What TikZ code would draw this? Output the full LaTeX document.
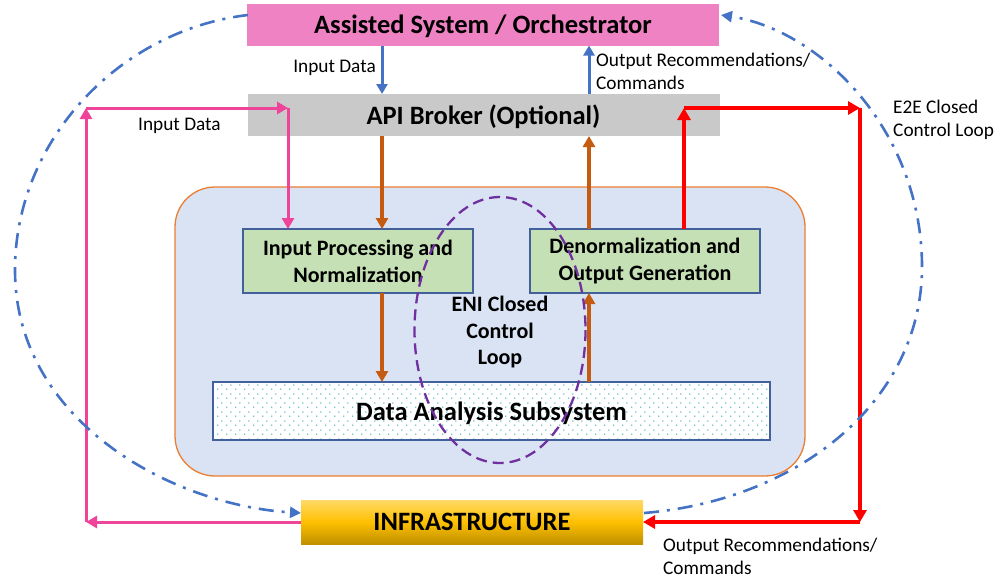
\documentclass[tikz,border=0pt]{standalone}
\usepackage{fontspec}
\setmainfont{Carlito}
\usetikzlibrary{arrows.meta,patterns,shapes.geometric}
\definecolor{pinkbox}{HTML}{EF82C3}
\definecolor{graybox}{HTML}{C9C9C9}
\definecolor{greenbox}{HTML}{C5E0B4}
\definecolor{boxborder}{HTML}{41609C}
\definecolor{bluefill}{HTML}{DAE3F3}
\definecolor{orangeborder}{HTML}{ED7D31}
\definecolor{orangearrow}{HTML}{C55A11}
\definecolor{bluearrow}{HTML}{4472C4}
\definecolor{pinkline}{HTML}{EE4499}
\definecolor{redline}{HTML}{FF0000}
\definecolor{purpleloop}{HTML}{7030A0}
\definecolor{dotteal}{HTML}{46B0C2}
\definecolor{goldtop}{HTML}{FFD966}
\definecolor{goldmid}{HTML}{FFC000}
\definecolor{goldbot}{HTML}{BF9000}
\pgfdeclarepatternformonly{stagdots}{\pgfpointorigin}{\pgfpoint{9pt}{9pt}}{\pgfpoint{9pt}{9pt}}{%
  \pgfpathcircle{\pgfpoint{2pt}{2pt}}{0.8pt}%
  \pgfpathcircle{\pgfpoint{6.5pt}{6.5pt}}{0.8pt}%
  \pgfusepath{fill}}
\tikzset{
  box/.style={rectangle, inner sep=0pt, outer sep=0pt, align=center, font=\fontsize{26.5}{30}\selectfont\bfseries},
  onebox/.style={box, text depth=0pt},
  greenbx/.style={box, fill=greenbox, draw=boxborder, line width=1.3pt, font=\fontsize{22}{27}\selectfont\bfseries},
  lbl/.style={font=\fontsize{19.3}{23.5}\selectfont, inner sep=0pt, align=left},
  bluearr/.style={draw=bluearrow, line width=3pt, -{Triangle[length=10pt,width=11pt]}},
  orarr/.style={draw=orangearrow, line width=3.5pt, -{Triangle[length=11pt,width=12pt]}},
  pinkarr/.style={draw=pinkline, line width=3pt, -{Triangle[length=11pt,width=12pt]}},
  redarr/.style={draw=redline, line width=3.6pt, -{Triangle[length=12pt,width=13pt]}},
  loopline/.style={draw=bluearrow, line width=2.6pt, dash pattern=on 15pt off 8pt on 3pt off 8pt, -{Triangle[length=11pt,width=11pt]}},
}
\begin{document}
\begin{tikzpicture}[x=1pt,y=-1pt]
\useasboundingbox (0,0) rectangle (1000,579);
% column coordinates
\coordinate (cA) at (382,0);
\coordinate (cB) at (589,0);
% boxes
\node[onebox, fill=pinkbox, minimum width=472pt, minimum height=42pt] (as) at (483,24.5) {Assisted System / Orchestrator};
\node[onebox, fill=graybox, minimum width=472pt, minimum height=42pt] (api) at (483.5,115) {API Broker (Optional)};
\node[rectangle, fill=bluefill, draw=orangeborder, line width=1.3pt, rounded corners=40pt, minimum width=630pt, minimum height=289pt, inner sep=0pt, outer sep=0pt] (eni) at (490,331.5) {};
\node[greenbx, minimum width=230pt, minimum height=64pt] (inproc) at (358,261) {Input Processing and\\Normalization};
\node[greenbx, minimum width=230pt, minimum height=64pt] (denorm) at (645,261) {Denormalization and\\Output Generation};
\node[box, draw=boxborder, line width=1.3pt, preaction={fill=white}, pattern=stagdots, pattern color=dotteal, minimum width=557pt, minimum height=58pt] (das) at (491.5,411) {};
\node[onebox] (dastext) at (das.center) {Data Analysis Subsystem};
\node[onebox, top color=goldtop, bottom color=goldbot, middle color=goldmid, minimum width=342pt, minimum height=44pt] (infra) at (472,522) {INFRASTRUCTURE};
% ENI loop
\node[lbl, align=center, font=\fontsize{22}{26.5}\selectfont\bfseries] (enitext) at (500,332.5) {ENI Closed\\Control\\Loop};
% blue arrows
\draw[bluearr] (as.south -| cA) -- (api.north -| cA);
\draw[bluearr] (api.north -| cB) -- (as.south -| cB);
\node[lbl, anchor=east] (lin1) at (376,68) {Input Data};
\node[lbl, anchor=west] (lout1) at (596,71.5) {Output Recommendations/\\Commands};
% orange arrows
\draw[orarr] (api.south -| cA) -- (inproc.north -| cA);
\draw[orarr] (inproc.south -| cA) -- (das.north -| cA);
\draw[orarr] (das.north -| cB) -- (denorm.south -| cB);
\draw[orarr] (denorm.north -| cB) -- (api.south -| cB);
% pink path
\coordinate (pk1) at (86,522);
\coordinate (pk2) at (86,108);
\coordinate (pk3) at (288,108);
\draw[pinkarr] (infra.west) -- (pk1);
\draw[pinkarr] (pk1) -- (pk2);
\draw[pinkarr] (pk2) -- (pk3);
\draw[pinkarr] (pk3) -- (pk3 |- inproc.north);
\node[lbl, anchor=west] (lin2) at (138,126) {Input Data};
% red path
\coordinate (r1) at (684,108);
\coordinate (r2) at (860,108);
\coordinate (r3) at (860,522);
\draw[redarr] (r1 |- denorm.north) -- (r1);
\draw[redarr] (r1) -- (r2);
\draw[redarr] (r2) -- (r3);
\draw[redarr] (r3) -- (infra.east);
\node[lbl, anchor=west] (le2e) at (893,120) {E2E Closed\\Control Loop};
\node[lbl, anchor=west] (lout2) at (663,556.5) {Output Recommendations/\\Commands};
% purple ENI loop ellipse
\draw[purpleloop, line width=2.3pt, dash pattern=on 11pt off 6pt] (500,330) ellipse [x radius=85.5, y radius=133];
% E2E dash-dot loop
\coordinate (lstart) at (248,15);
\coordinate (lend) at (301,513);
\coordinate (rstart) at (644,513);
\coordinate (rend) at (721,15);
\draw[loopline] (lstart) .. controls (120,30) and (15,140) .. (15,270) .. controls (15,420) and (170,505) .. (lend);
\draw[loopline] (rstart) .. controls (800,500) and (922,400) .. (922,267) .. controls (922,130) and (820,30) .. (rend);
\end{tikzpicture}
\end{document}
